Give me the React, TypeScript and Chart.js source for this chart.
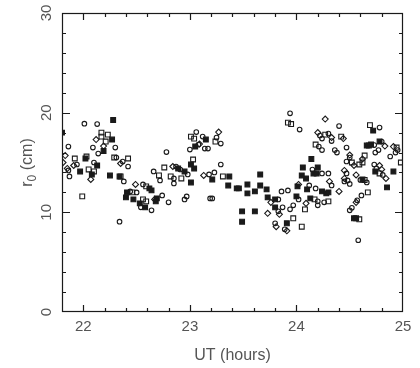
import { useEffect, useRef } from "react";
import { Chart, registerables } from "chart.js";

Chart.register(...registerables);

type P = [number, number];

const openCircles: P[] = [
  [22.01, 18.9], [22.13, 18.86], [21.86, 16.6], [22.09, 16.5], [22.3, 16.5], [22.14, 15.9],
  [22.1, 15.0], [22.31, 15.5], [22.37, 15.1], [22.42, 14.6], [21.86, 14.2], [21.94, 14.8],
  [21.87, 13.6], [22.38, 13.1], [22.44, 12.1], [22.5, 12.0], [22.56, 12.8], [22.54, 10.5],
  [22.64, 10.2], [22.34, 9.06], [23.06, 18.05], [23.12, 17.6], [23.25, 17.5], [23.29, 16.9],
  [23.08, 16.8], [23.0, 16.3], [23.14, 16.4], [23.17, 16.4], [22.78, 16.05], [23.29, 14.8],
  [22.87, 14.6], [22.91, 14.3], [22.98, 13.8], [22.66, 14.1], [22.72, 13.2], [22.85, 13.4],
  [22.85, 12.9], [23.18, 13.8], [23.23, 14.0], [22.74, 11.7], [22.8, 11.0], [22.95, 11.3],
  [22.97, 11.6], [23.19, 11.4], [23.21, 11.4], [23.94, 19.93], [24.03, 18.3], [24.22, 17.7],
  [24.24, 17.4], [24.21, 16.6], [24.24, 16.25], [24.15, 14.3], [24.24, 13.9], [24.12, 12.7],
  [24.18, 12.4], [23.86, 12.1], [23.92, 12.2], [23.83, 11.3], [24.2, 11.1], [24.26, 11.0],
  [23.87, 10.5], [23.94, 10.3], [23.97, 10.7], [24.2, 10.7], [23.83, 10.1], [23.8, 8.9],
  [23.89, 8.3], [24.4, 18.65], [24.78, 18.5], [24.33, 17.15], [24.36, 16.25], [24.38, 16.0],
  [24.47, 16.5], [24.73, 16.75], [24.8, 17.1], [24.77, 16.25], [24.74, 16.0], [24.95, 16.25],
  [24.93, 16.0], [24.88, 15.6], [24.5, 15.5], [24.47, 15.1], [24.73, 14.8], [24.75, 14.4],
  [24.81, 13.75], [24.3, 13.9], [24.47, 13.9], [24.6, 13.25], [24.66, 13.0], [24.48, 13.2],
  [24.45, 13.1], [24.5, 12.85], [24.33, 12.7], [24.61, 11.7], [24.57, 11.2], [24.52, 10.45],
  [24.5, 10.2], [24.58, 7.2], [24.3, 17.9], [24.02, 11.3],
];

const openDiamonds: P[] = [
  [22.12, 17.3], [22.19, 16.65], [21.83, 15.7], [22.35, 14.9], [21.81, 15.0], [21.85, 14.4],
  [21.91, 14.7], [22.07, 13.3], [22.49, 12.8], [23.27, 18.05], [22.84, 14.6], [23.13, 13.7],
  [24.27, 19.36], [24.2, 18.0], [23.76, 11.0], [24.09, 10.9], [23.84, 9.8], [23.73, 9.9],
  [23.81, 8.56], [23.91, 8.15], [24.33, 17.5], [24.44, 17.4], [24.83, 16.65], [24.91, 16.6],
  [24.5, 15.75], [24.54, 14.7], [24.62, 15.35], [24.78, 14.7], [24.8, 14.3], [24.84, 13.4],
  [24.45, 14.2], [24.56, 13.75], [24.45, 13.4], [24.31, 13.1], [24.4, 12.1], [24.56, 11.0],
  [22.67, 11.3], [24.02, 12.8], [23.09, 16.85],
];

const openSquares: P[] = [
  [22.17, 18.0], [22.23, 17.8], [22.17, 17.6], [22.21, 17.1], [21.92, 15.4], [22.03, 15.6],
  [22.29, 15.5], [22.42, 15.4], [22.05, 14.3], [22.1, 14.1], [22.35, 13.6], [21.99, 11.6],
  [22.46, 12.0], [22.59, 12.6], [22.56, 11.3], [22.59, 11.1], [23.01, 17.6], [23.04, 17.4],
  [23.24, 17.1], [23.03, 15.3], [22.76, 14.5], [22.71, 13.7], [22.82, 13.6], [22.92, 13.4],
  [23.31, 13.6], [23.92, 19.0], [23.95, 18.86], [24.27, 17.8], [24.18, 16.8], [24.17, 11.3],
  [24.08, 10.3], [23.97, 9.4], [24.05, 8.56], [24.69, 18.75], [24.42, 17.6], [24.94, 16.5],
  [24.98, 15.0], [24.52, 15.0], [24.59, 14.8], [24.62, 15.0], [24.64, 15.7], [24.78, 13.9],
  [24.64, 13.25], [24.3, 11.1], [24.67, 12.0], [24.59, 9.3],
];

const filledSquares: P[] = [
  [22.28, 19.26], [22.27, 17.3], [22.19, 16.15], [22.02, 15.4], [22.13, 14.7], [21.97, 14.1],
  [22.08, 13.8], [22.25, 13.7], [22.34, 13.6], [22.41, 12.0], [22.4, 11.5], [22.47, 11.3],
  [22.62, 12.4], [22.53, 10.9], [22.58, 10.5], [23.15, 17.3], [23.05, 16.6], [23.01, 14.8],
  [23.04, 14.4], [22.95, 14.1], [23.01, 13.0], [23.21, 13.3], [23.37, 13.6], [23.36, 12.7],
  [23.44, 12.4], [22.64, 12.2], [22.69, 11.4], [22.68, 11.1], [24.14, 15.35], [24.06, 14.5],
  [24.2, 14.5], [24.16, 13.9], [24.19, 13.9], [24.05, 13.7], [24.09, 13.4], [23.66, 13.8],
  [23.54, 12.8], [23.66, 12.7], [23.61, 12.1], [23.72, 12.3], [23.54, 11.9], [23.46, 12.4],
  [24.01, 12.6], [24.1, 12.3], [24.24, 12.1], [24.28, 11.9], [23.73, 11.5], [23.8, 11.3],
  [24.0, 11.6], [24.13, 11.4], [23.8, 10.5], [23.49, 10.1], [23.61, 10.1], [23.49, 9.06],
  [23.91, 8.9], [24.72, 18.2], [24.66, 16.7], [24.68, 16.7], [24.7, 16.8], [24.78, 17.1],
  [24.74, 14.1], [24.91, 14.1], [24.62, 13.3], [24.85, 12.5], [24.3, 12.0], [24.54, 9.4],
  [24.56, 9.4], [21.8, 18.0], [22.89, 14.4],
];

const xTickLabels = [22, 23, 24, 25];
const yTickLabels = [0, 10, 20, 30];
const xTitle = "UT (hours)";

const toPts = (a: P[]) => a.map(([x, y]) => ({ x, y }));

const INK = "#1a1a1a";
const TEXT = "#555";
const FONT = "15px 'Liberation Sans', Arial, sans-serif";

const framePlugin = {
  id: "frame",
  afterDraw(chart: any) {
    const { ctx, chartArea: a, scales } = chart;
    const xs = scales.x;
    const ys = scales.y;
    const isMajor = (v: number, m: number) => Math.abs(v / m - Math.round(v / m)) < 1e-6;
    ctx.save();
    ctx.strokeStyle = INK;
    ctx.lineWidth = 1.2;
    ctx.strokeRect(a.left + 0.5, a.top + 0.5, a.right - a.left - 1, a.bottom - a.top - 1);
    ctx.beginPath();
    for (const t of xs.ticks) {
      const v = t.value;
      if (Math.abs(v - xs.min) < 1e-6 || Math.abs(v - xs.max) < 1e-6) continue;
      const px = Math.round(xs.getPixelForValue(v)) + 0.5;
      const len = isMajor(v, 1) ? 7 : 4;
      ctx.moveTo(px, a.bottom);
      ctx.lineTo(px, a.bottom - len);
      ctx.moveTo(px, a.top);
      ctx.lineTo(px, a.top + len);
    }
    for (const t of ys.ticks) {
      const v = t.value;
      if (Math.abs(v - ys.min) < 1e-6 || Math.abs(v - ys.max) < 1e-6) continue;
      const py = Math.round(ys.getPixelForValue(v)) + 0.5;
      const len = isMajor(v, 10) ? 8 : 4;
      ctx.moveTo(a.left, py);
      ctx.lineTo(a.left + len, py);
      ctx.moveTo(a.right, py);
      ctx.lineTo(a.right - len, py);
    }
    ctx.stroke();

    ctx.fillStyle = TEXT;
    ctx.font = FONT;
    ctx.textAlign = "center";
    ctx.textBaseline = "middle";
    for (const v of xTickLabels) {
      ctx.fillText(String(v), xs.getPixelForValue(v), a.bottom + 15);
    }
    for (const v of yTickLabels) {
      ctx.save();
      ctx.translate(a.left - 15, ys.getPixelForValue(v));
      ctx.rotate(-Math.PI / 2);
      ctx.fillText(String(v), 0, 0);
      ctx.restore();
    }
    ctx.font = "16px 'Liberation Sans', Arial, sans-serif";
    ctx.fillText(xTitle, (a.left + a.right) / 2, a.bottom + 44);

    // y title: r_0 (cm)
    ctx.save();
    ctx.translate(28, (a.top + a.bottom) / 2);
    ctx.rotate(-Math.PI / 2);
    ctx.textAlign = "left";
    const big = "16px 'Liberation Sans', Arial, sans-serif";
    const small = "12px 'Liberation Sans', Arial, sans-serif";
    ctx.font = big;
    const wr = ctx.measureText("r").width;
    const wt = ctx.measureText(" (cm)").width;
    ctx.font = small;
    const w0 = ctx.measureText("0").width;
    const total = wr + w0 + wt;
    const x0 = -total / 2;
    ctx.font = big;
    ctx.fillText("r", x0, 0);
    ctx.font = small;
    ctx.fillText("0", x0 + wr, 5);
    ctx.font = big;
    ctx.fillText(" (cm)", x0 + wr + w0, 0);
    ctx.restore();
    ctx.restore();
  },
};

export default function App() {
  const ref = useRef<HTMLCanvasElement | null>(null);
  useEffect(() => {
    if (!ref.current) return;
    const common = { borderColor: INK, borderWidth: 1.1, showLine: false };
    const chart = new Chart(ref.current, {
      type: "scatter",
      data: {
        datasets: [
          { ...common, data: toPts(openCircles), pointStyle: "circle", pointRadius: 2.3, backgroundColor: "rgba(0,0,0,0)" },
          { ...common, data: toPts(openDiamonds), pointStyle: "rectRot", pointRadius: 3, backgroundColor: "rgba(0,0,0,0)" },
          { ...common, data: toPts(openSquares), pointStyle: "rect", pointRadius: 3.4, backgroundColor: "rgba(0,0,0,0)" },
          { ...common, data: toPts(filledSquares), pointStyle: "rect", pointRadius: 3.4, backgroundColor: INK },
        ],
      },
      options: {
        animation: false,
        responsive: false,
        layout: { padding: { left: 62, right: 17, top: 13, bottom: 56 } },
        plugins: { legend: { display: false }, tooltip: { enabled: false } },
        scales: {
          x: {
            type: "linear",
            min: 21.8,
            max: 25,
            ticks: { display: false, stepSize: 0.2 },
            grid: { display: false, drawTicks: false },
            border: { display: false },
          },
          y: {
            type: "linear",
            min: 0,
            max: 30,
            ticks: { display: false, stepSize: 2 },
            grid: { display: false, drawTicks: false },
            border: { display: false },
          },
        },
      },
      plugins: [framePlugin],
    });
    return () => chart.destroy();
  }, []);
  return (
    <div style={{ position: "fixed", left: 0, top: 0, width: 420, height: 368, background: "#fff" }}>
      <canvas ref={ref} width={420} height={368} style={{ width: 420, height: 368, display: "block" }} />
    </div>
  );
}
